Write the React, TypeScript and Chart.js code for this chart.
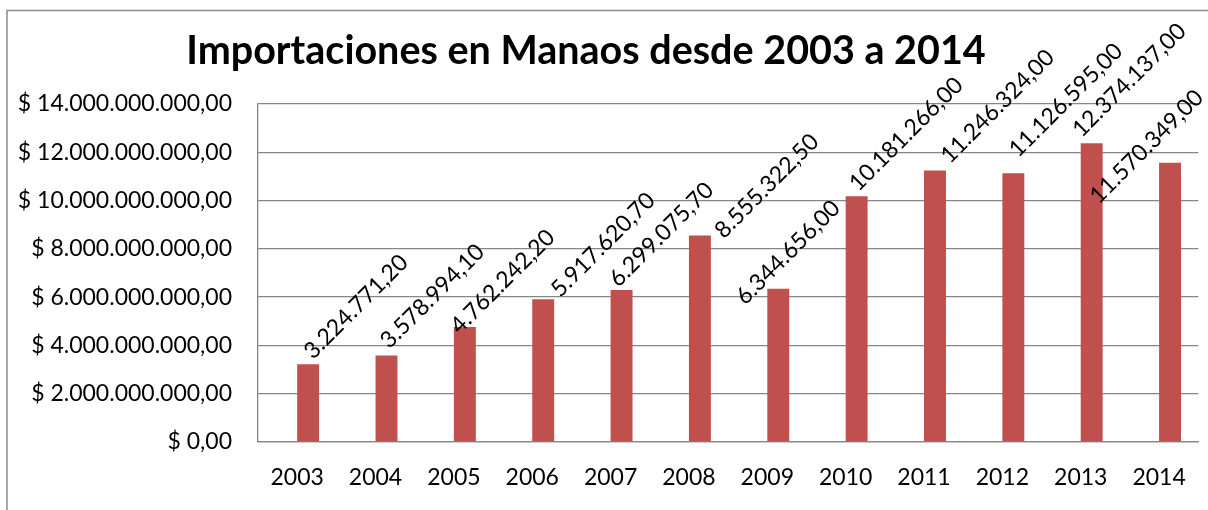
import React, { useEffect, useRef } from "react";
import { Chart, registerables } from "chart.js";

Chart.register(...registerables);

// ---- data ----
const years = ["2003", "2004", "2005", "2006", "2007", "2008", "2009", "2010", "2011", "2012", "2013", "2014"];
// first (empty) series of the clustered chart – nothing visible
const hiddenSeries = [null, null, null, null, null, null, null, null, null, null, null, null];
// values as printed on the data labels (thousands of dollars)
const importsThousands = [
  3224771.2, 3578994.1, 4762242.2, 5917620.7, 6299075.7, 8555322.5,
  6344656.0, 10181266.0, 11246324.0, 11126595.0, 12374137.0, 11570349.0,
];
const axisUnit = 1000; // axis ticks are shown in dollars
const yMax = 14000000;
const yStep = 2000000;
const chartTitle = "Importaciones en Manaos desde 2003 a 2014";

// ---- style ----
const BAR = "#C0504D";
const GRID = "#868686";
const FONT = "Lato, 'Open Sans', sans-serif";
const TICK_SIZE = 23;
const labelNudge: [number, number][] = [
  [5, -4], [3, -6], [-5, 8], [17, -1], [-3, -2], [24, 4],
  [-33, 17], [2, -4], [15, -6], [5, -15], [-10, -5], [-71, 42],
];

function fmtEs(v: number): string {
  const neg = v < 0;
  const fixed = Math.abs(v).toFixed(2);
  const [i, d] = fixed.split(".");
  const withDots = i.replace(/\B(?=(\d{3})+(?!\d))/g, ".");
  return (neg ? "-" : "") + withDots + "," + d;
}

const framePlugin = {
  id: "frame",
  beforeDraw(chart: any) {
    const ctx = chart.ctx;
    ctx.save();
    ctx.fillStyle = "#ffffff";
    ctx.fillRect(0, 0, chart.width, chart.height);
    ctx.strokeStyle = "#8c8c8c";
    ctx.lineWidth = 1.5;
    ctx.beginPath();
    ctx.moveTo(7, chart.height);
    ctx.lineTo(7, 10.5);
    ctx.lineTo(chart.width, 10.5);
    ctx.stroke();
    ctx.restore();
  },
  afterDraw(chart: any) {
    const ctx = chart.ctx;
    ctx.save();
    ctx.fillStyle = "#000";
    ctx.font = `bold 39.5px ${FONT}`;
    ctx.textAlign = "center";
    ctx.textBaseline = "alphabetic";
    ctx.fillText(chartTitle, 586, 64);
    ctx.restore();
  },
};

const dataLabelPlugin = {
  id: "rotLabels",
  afterDatasetsDraw(chart: any) {
    const ctx = chart.ctx;
    const meta = chart.getDatasetMeta(1);
    const ds = chart.data.datasets[1];
    ctx.save();
    ctx.fillStyle = "#000";
    ctx.font = `${TICK_SIZE}px ${FONT}`;
    ctx.textAlign = "left";
    ctx.textBaseline = "alphabetic";
    meta.data.forEach((bar: any, i: number) => {
      const [dx, dy] = labelNudge[i] || [0, 0];
      ctx.save();
      ctx.translate(bar.x + dx, bar.y + dy);
      ctx.rotate(-Math.PI / 4);
      ctx.fillText(fmtEs(ds.data[i]), 0, 0);
      ctx.restore();
    });
    ctx.restore();
  },
};

export default function App() {
  const ref = useRef<HTMLCanvasElement | null>(null);
  useEffect(() => {
    if (!ref.current) return;
    const chart = new Chart(ref.current, {
      type: "bar",
      data: {
        labels: years,
        datasets: [
          {
            label: "Año",
            data: hiddenSeries,
            backgroundColor: "#4F81BD",
            borderWidth: 0,
            barPercentage: 1,
            categoryPercentage: 0.56,
          },
          {
            label: "Importaciones",
            data: importsThousands,
            backgroundColor: BAR,
            borderWidth: 0,
            barPercentage: 1,
            categoryPercentage: 0.56,
          },
        ],
      },
      options: {
        animation: false,
        responsive: false,
        maintainAspectRatio: false,
        layout: { padding: { top: 104, right: 6, left: 0, bottom: 0 } },
        plugins: { legend: { display: false }, tooltip: { enabled: false }, title: { display: false } },
        scales: {
          x: {
            grid: { display: false, drawTicks: false },
            border: { display: true, color: GRID, width: 1.3 },
            ticks: { color: "#000", font: { family: FONT, size: TICK_SIZE }, padding: 22, maxRotation: 0 },
            afterFit(scale: any) {
              scale.height = 68;
            },
          },
          y: {
            min: 0,
            max: yMax,
            grid: { display: true, color: GRID, lineWidth: 1.3, drawTicks: false },
            border: { display: true, color: GRID, width: 1.3 },
            ticks: {
              stepSize: yStep,
              color: "#000",
              font: { family: FONT, size: TICK_SIZE },
              padding: 26,
              callback: (v: any) => "$ " + fmtEs(Number(v) * axisUnit),
            },
            afterFit(scale: any) {
              scale.width = 258;
            },
          },
        },
      },
      plugins: [framePlugin, dataLabelPlugin],
    });
    return () => chart.destroy();
  }, []);
  return (
    <div style={{ position: "absolute", left: 0, top: 0, width: 1208, height: 510 }}>
      <canvas ref={ref} width={1208} height={510} style={{ display: "block" }} />
    </div>
  );
}
